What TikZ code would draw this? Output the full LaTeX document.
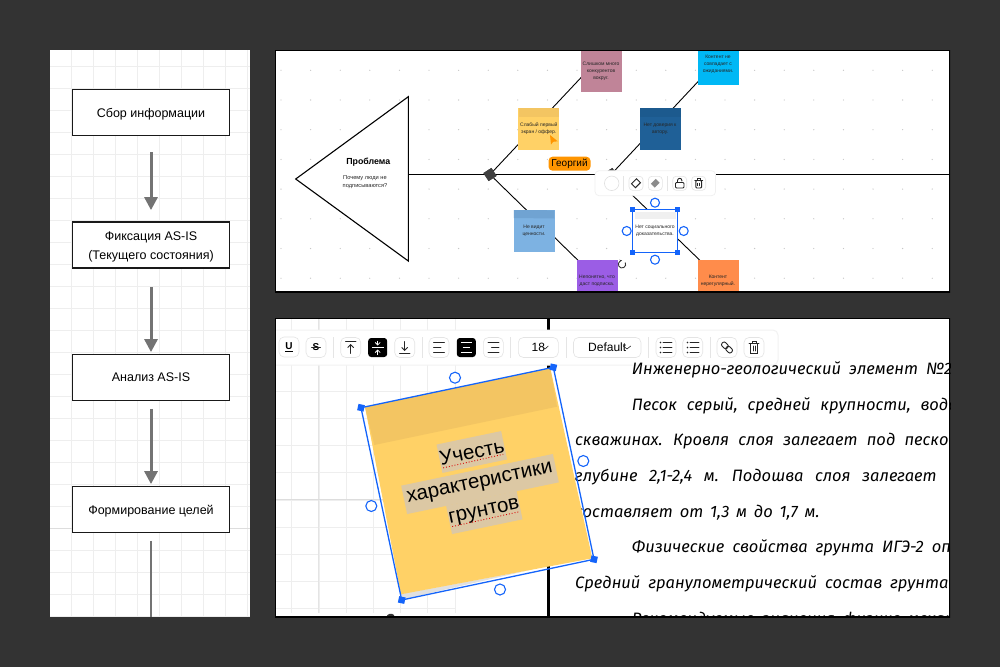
\documentclass[tikz,border=0pt]{standalone}
\usepackage{fontspec}
\usepackage{xcolor}
\setmainfont{Liberation Sans}
\newfontfamily\gostfont[WordSpace=1.9]{Fira Sans}
\usetikzlibrary{arrows.meta}
\usetikzlibrary{calc}
\definecolor{backdrop}{HTML}{333333}
\definecolor{selblue}{HTML}{1464FA}
\definecolor{hairline}{HTML}{EEEEEE}
\definecolor{gridbold}{HTML}{DDDDDD}
\definecolor{btnline}{HTML}{E4E4E4}
\definecolor{noteshade}{HTML}{DCC8A4}
\definecolor{pinknote}{HTML}{C08498}
\definecolor{cyannote}{HTML}{00B8F5}
\definecolor{yellownote}{HTML}{FFD166}
\definecolor{yellowband}{HTML}{F3C562}
\definecolor{navynote}{HTML}{1F6097}
\definecolor{navyband}{HTML}{1C5A8E}
\definecolor{bluenote}{HTML}{7DB2E2}
\definecolor{blueband}{HTML}{70A3D2}
\definecolor{purplenote}{HTML}{9B5DE5}
\definecolor{orangenote}{HTML}{FF8C4B}
\definecolor{namebadge}{HTML}{FF9500}
\newcommand{\flowstrut}{\rule{0pt}{13.5pt}}
\tikzset{x=1pt,y=-1pt,
 flowbox/.style={draw=black!90,line width=1.8pt,fill=white,minimum width=157pt,minimum height=46pt,inner sep=0pt,align=center,font=\fontsize{12.5}{19}\selectfont},
 flowarrow/.style={draw=black!55,line width=3pt,-{Triangle[length=13pt,width=13pt]}},
 flowline/.style={draw=black!55,line width=1.6pt},
 bone/.style={draw=black,line width=.9pt},
 sticky/.style={minimum width=41pt,minimum height=42pt,inner sep=0pt,align=center,font=\fontsize{5}{7.2}\selectfont,text=black!85},
 joint/.style={rectangle,rotate=33,fill=black!75,inner sep=0pt,minimum size=9.5pt},
 handle/.style={circle,draw=selblue,line width=1.1pt,fill=white,inner sep=0pt,minimum size=9pt},
 corner/.style={rectangle,fill=selblue,inner sep=0pt,minimum size=5pt},
 toolbtn/.style={rectangle,rounded corners=3.5pt,draw=btnline,line width=.6pt,fill=white,inner sep=0pt,minimum size=14pt},
 editbtn/.style={rectangle,rounded corners=5pt,draw=btnline,line width=.6pt,fill=white,inner sep=0pt,minimum size=20pt,font=\fontsize{11}{11}\selectfont},
 blackbtn/.style={rectangle,rounded corners=3pt,fill=black,inner sep=0pt,minimum size=19pt},
 icon/.style={draw=black!85,line width=.9pt,line cap=round},
 docline/.style={anchor=base west,inner sep=0pt,font=\gostfont\itshape\fontsize{16.5}{16.5}\selectfont},
 notetext/.style={rotate=11.8,fill=noteshade,inner sep=0pt,minimum height=29pt,font=\fontsize{20.5}{20.5}\selectfont},
 spell/.style={draw=red!85!black,line width=.9pt,dotted},
}
\begin{document}
\begin{tikzpicture}
        \fill [backdrop] (0, 0) rectangle (1000, 667);
        \useasboundingbox (0, 0) rectangle (1000, 667);
        % left panel
        \fill [white] (50, 50) rectangle (250, 617);
        \foreach \gx in {71, 93, ..., 247} \draw [hairline, line width=.8pt] (\gx, 50) -- (\gx, 617);
        \foreach \gy in {66, 88, ..., 616} \draw [hairline, line width=.8pt] (50, \gy) -- (250, \gy);
        \draw [gridbold, line width=.8pt] (50, 528) -- (250, 528);
        \node [flowbox] (collect) at (151, 112.5) {\flowstrut Сбор информации};
        \node [flowbox] (asisfix) at (151, 245) {\flowstrut Фиксация AS-IS\\(Текущего состояния)};
        \node [flowbox] (asisan) at (151, 377.5) {Анализ AS-IS};
        \node [flowbox] (goals) at (151, 509.5) {\flowstrut Формирование целей};
        \coordinate (goalsend) at (151, 617);
        \draw [flowarrow, shorten <=16pt, shorten >=11pt] (collect) -- (asisfix);
        \draw [flowarrow, shorten <=18pt, shorten >=1.5pt] (asisfix) -- (asisan);
        \draw [flowarrow, shorten <=7.5pt, shorten >=1.5pt] (asisan) -- (goals);
        \draw [flowline, shorten <=7.5pt] (goals) -- (goalsend);

        % top panel
        \begin{scope}
        \clip (275, 50) rectangle (950, 292);
        \fill [white] (275, 50) rectangle (950, 292);
        \foreach \dx in {281, 310.6, ..., 945} \foreach \dy in {70.3, 100, ..., 285}
            \fill [black!22] (\dx, \dy) circle (.65);
        \node [joint] (jointa) at (490, 174.5) {};
        \node [joint] (jointb) at (611, 174.5) {};
        \coordinate (spinea) at (408.3, 174.5);
        \coordinate (spineb) at (950, 174.5);
        \coordinate (pinkend) at (590, 68);
        \coordinate (cyanend) at (707, 72);
        \coordinate (purpleend) at (590, 272);
        \coordinate (orangeend) at (712, 272);
        \draw [bone] (spinea) -- (spineb);
        \draw [bone] (jointa) -- (pinkend);
        \draw [bone] (jointa) -- (purpleend);
        \draw [bone] (jointb) -- (cyanend);
        \draw [bone] (jointb) -- (orangeend);
        \node [joint] at (jointa) {};
        \node [joint] at (jointb) {};
        \coordinate (apex) at (295.7, 179);
        \coordinate (headtop) at (408.3, 96.7);
        \coordinate (headbot) at (408.3, 261);
        \draw [black, line width=1.1pt, line join=miter, fill=white] (apex) -- (headtop) -- (headbot) -- cycle;
        \node [font=\bfseries\fontsize{8.8}{8.8}\selectfont] (headline) at (368.3, 162) {Проблема};
        \node [font=\fontsize{5.7}{8.2}\selectfont, align=center, text=black!85] (headsub) at (365, 182.5) {Почему люди не\\подписываются?};
        % stickies
        \node [sticky, fill=pinknote] (pink) at (601, 71) {Слишком много\\конкурентов\\вокруг.};
        \node [sticky, fill=cyannote] (cyan) at (718, 64) {Контент не\\совпадает с\\ожиданиями.};
        \node [sticky, fill=yellownote] (yellow) at (538.8, 129) {Слабый первый\\экран / оффер.};
        \fill [yellowband] (518.5, 108) -- (559, 108) -- (559, 116.6) -- (518.5, 116.6) -- cycle;
        \node [sticky, fill=navynote] (navy) at (660, 129) {Нет доверия к\\автору.};
        \fill [navyband] (639.5, 108) rectangle (680.5, 116.6);
        \node [sticky, fill=bluenote] (bluen) at (534, 231) {Не видит\\ценности.};
        \fill [blueband] (513.8, 210) -- (554.3, 210.3) -- (554.3, 218.5) -- (513.8, 218) -- cycle;
        \node [sticky, fill=purplenote] (purple) at (597, 281) {Непонятно, что\\даст подписка.};
        \node [sticky, fill=orangenote] (orangen) at (718, 281) {Контент\\нерегулярный.};
        \node [sticky, fill=white, minimum width=43pt, minimum height=43pt] (plain) at (655, 231) {Нет социального\\доказательства.};
        \fill [black!6] (634.5, 212) rectangle (675.5, 219);
        \fill [namebadge] (550, 135) -- (557.7, 141.3) -- (553.2, 141.8) -- (551, 144.5) -- cycle;
        \node [fill=namebadge, rounded corners=4pt, minimum width=42pt, minimum height=14pt, inner sep=0pt, font=\fontsize{10}{10}\selectfont] (george) at (569.5, 163.7) {Георгий};
        % selection
        \draw [selblue, line width=.9pt] (632.7, 209.5) rectangle (677.3, 252.7);
        \foreach \cx/\cy in {632.7/209.5, 677.3/209.5, 632.7/252.7, 677.3/252.7}
            \node [corner] at (\cx, \cy) {};
        \node [handle] (hn) at (655, 202.7) {};
        \node [handle] (hw) at (626.7, 231) {};
        \node [handle] (he) at (683.7, 231) {};
        \node [handle] (hs) at (655, 259.7) {};
        \draw [black!80, line width=.9pt, -{Stealth[length=2.5pt]}] (622, 264.3) ++(-30:3.7) arc (-30:270:3.7);
        % toolbar
        \node [draw=black!6, line width=.7pt, fill=white, rounded corners=4pt, minimum width=120.5pt, minimum height=25pt, inner sep=0pt] (popbar) at (655.3, 183.2) {};
        \node [circle, draw=black!12, line width=.6pt, inner sep=0pt, minimum size=14.5pt] (swatch) at (611.7, 183.3) {};
        \draw [black!10, line width=.6pt] (623.3, 176) -- (623.3, 191);
        \draw [black!10, line width=.6pt] (667.3, 176) -- (667.3, 191);
        \node [toolbtn] (eraseA) at (636, 183.3) {};
        \node [toolbtn] (eraseB) at (655.3, 183.3) {};
        \node [toolbtn] (lockb) at (679.7, 183.3) {};
        \node [toolbtn] (binb) at (698.7, 183.3) {};
        \draw [icon, rotate around={45:(636,183.3)}] (632.5, 180.5) rectangle (639.5, 186);
        \fill [black!45, rotate around={45:(655.3,183.3)}] (651.8, 180.5) rectangle (658.8, 186);
        \draw [icon, rounded corners=1pt] (675.5, 182.5) rectangle (684, 188);
        \draw [icon] (677.5, 182.5) -- (677.5, 180.5) arc (180:360:2.2) -- (681.9, 181);
        \draw [icon, rounded corners=1pt] (695.8, 180.5) rectangle (701.6, 188);
        \draw [icon] (694.8, 180) -- (702.6, 180);
        \draw [icon] (697.5, 180) -- (697.5, 178.5) -- (700, 178.5) -- (700, 180);
        \draw [black!85, line width=.7pt] (697.8, 182.5) -- (697.8, 186);
        \draw [black!85, line width=.7pt] (699.7, 182.5) -- (699.7, 186);
        \draw [black, line width=1.2pt] (275, 50) rectangle (950, 292);
        \end{scope}

        % bottom panel
        \begin{scope}
        \clip (275, 318) rectangle (950, 617);
        \fill [white] (275, 318) rectangle (950, 617);
        \foreach \gx in {291.7, 318.9, ..., 456} \draw [hairline, line width=.8pt] (\gx, 318) -- (\gx, 613);
        \foreach \gy in {336.7, 363.9, ..., 612} \draw [hairline, line width=.8pt] (275, \gy) -- (456, \gy);
        \draw [btnline, line width=.8pt] (318.5, 318) -- (318.5, 613);
        \draw [gridbold, line width=.8pt] (275, 499) -- (456, 499);
        \draw [black, line width=2.6pt] (548.3, 318) -- (548.3, 617);
        \fill [black!80] (386, 617) .. controls (388, 613) and (392, 613) .. (394, 615) -- (394, 617) -- cycle;
        % text toolbar
        \node [draw=black!5, line width=1pt, fill=white, rounded corners=5pt, minimum width=520pt, minimum height=35pt, inner sep=0pt] (editbar) at (518, 347.5) {};
        \foreach \sx in {333.3, 422, 510.7, 566, 648.3, 710}
            \draw [black!10, line width=.7pt] (\sx, 337) -- (\sx, 358);
        \node [editbtn, font=\bfseries\fontsize{10}{10}\selectfont] (ubtn) at (289, 347) {\underline{U}};
        \node [editbtn, font=\bfseries\fontsize{10}{10}\selectfont] (sbtn) at (316, 347.5) {S};
        \node [editbtn] (topbtn) at (350.7, 347.5) {};
        \node [blackbtn] (midbtn) at (377.7, 347.5) {};
        \node [editbtn] (botbtn) at (404.7, 347.5) {};
        \node [editbtn] (leftbtn) at (439, 347.5) {};
        \node [blackbtn] (cenbtn) at (466.3, 347.5) {};
        \node [editbtn] (rightbtn) at (493.3, 347.5) {};
        \node [editbtn, minimum width=40pt, font=\fontsize{12}{12}\selectfont] (sizebtn) at (538.3, 347.5) {18\hspace{14pt}};
        \node [editbtn, minimum width=67.5pt, font=\fontsize{12}{12}\selectfont] (fontbtn) at (607.2, 347.5) {Default\hspace{14pt}};
        \node [editbtn] (listbtn) at (666, 347.5) {};
        \node [editbtn] (numbtn) at (692.7, 347.5) {};
        \node [editbtn] (linkbtn) at (727, 347.5) {};
        \node [editbtn] (trashbtn) at (754, 347.5) {};
        % icons
        \draw [icon, line width=.6pt] (541.7, 346) -- (545, 349) -- (548.3, 346);
        \draw [icon, line width=.6pt] (623.3, 346) -- (627, 349) -- (630.7, 346);
        \draw [icon] (311.5, 347.5) -- (320.5, 347.5);
        \draw [icon] (345.5, 341.5) -- (356, 341.5);
        \draw [icon, -{Straight Barb[length=3pt]}] (350.7, 353.5) -- (350.7, 344);
        \draw [icon] (399.5, 353.5) -- (410, 353.5);
        \draw [icon, -{Straight Barb[length=3pt]}] (404.7, 341.5) -- (404.7, 351);
        \draw [white, line width=.8pt] (372, 347.5) -- (383.5, 347.5);
        \draw [white, line width=.8pt, -{Straight Barb[length=2.5pt]}] (377.7, 340.5) -- (377.7, 345.5);
        \draw [white, line width=.8pt, -{Straight Barb[length=2.5pt]}] (377.7, 354.5) -- (377.7, 349.5);
        \foreach \ty/\tl in {342.5/11, 347.5/7.5, 352.5/11}
            \draw [icon] (433.5, \ty) -- ++(\tl, 0);
        \foreach \ty/\tl in {342.5/11, 347.5/7.5, 352.5/11}
            \draw [white, line width=.9pt] (466.3, \ty) ++(-\tl/2, 0) -- ++(\tl, 0);
        \foreach \ty/\tl in {342.5/11, 347.5/7.5, 352.5/11}
            \draw [icon] (499, \ty) -- ++(-\tl, 0);
        \foreach \ty in {342.5, 347.5, 352.5} {
            \draw [icon, line width=.6pt] (663, \ty) -- (672, \ty);
            \fill [black!85] (660.5, \ty) circle (.8);
            \draw [icon, line width=.6pt] (690, \ty) -- (699, \ty);
            \fill [black!85] (687.5, \ty) circle (.9);
        }
        \draw [icon, rotate around={-45:(727,347.5)}, rounded corners=2pt] (720.5, 345) rectangle (727.5, 350);
        \draw [icon, rotate around={-45:(727,347.5)}, rounded corners=2pt] (726.5, 345) rectangle (733.5, 350);
        \draw [icon] (750.5, 343.5) -- (750.5, 353.5) -- (757.5, 353.5) -- (757.5, 343.5);
        \draw [icon] (749, 343.5) -- (759, 343.5);
        \draw [icon] (752, 343.5) -- (752, 341.5) -- (756, 341.5) -- (756, 343.5);
        \draw [icon] (753, 346) -- (753, 351);
        \draw [icon] (755, 346) -- (755, 351);
        % scanned page
        \node [docline] (lineA) at (631.7, 374) {Инженерно-геологический элемент №2};
        \node [docline] (lineB) at (631.7, 410) {\spaceskip=9.8pt\relax Песок серый, средней крупности, водон};
        \node [docline] (lineC) at (575, 445.7) {\spaceskip=9.2pt\relax скважинах. Кровля слоя залегает под песко};
        \node [docline] (lineD) at (575, 481.7) {\spaceskip=11.6pt\relax глубине 2,1-2,4 м. Подошва слоя залегает};
        \node [docline] (lineE) at (575, 517) {\spaceskip=6.8pt\relax составляет от 1,3 м до 1,7 м.};
        \node [docline] (lineF) at (631.7, 552.7) {Физические свойства грунта ИГЭ-2 оп};
        \node [docline] (lineG) at (575, 588.3) {Средний гранулометрический состав грунта};
        \node [docline] (lineH) at (631.7, 624) {Рекомендуемые значения физико-механ};
        % sticky
        \coordinate (selnw) at (361, 407.7);
        \coordinate (selne) at (553.3, 367.3);
        \coordinate (selse) at (594, 559.3);
        \coordinate (selsw) at (401.7, 600);
        \fill [black!12] (401, 594) -- (530, 570) -- (403, 599.3) -- cycle;
        \fill [yellownote] (365, 407) -- (550.3, 368.3) -- (592.3, 558.3) -- (401, 594.3) -- cycle;
        \fill [yellowband] (365, 407) -- (550.3, 368.3) -- (557, 406.7) -- (374.3, 445) -- cycle;
        \node [notetext, minimum width=66pt] (noteA) at (471.8, 452) {Учесть};
        \node [notetext, minimum width=155pt] (noteB) at (480, 484) {характеристики};
        \node [notetext, minimum width=72pt] (noteC) at (484.3, 512.5) {грунтов};
        \draw [spell] ($(noteA.base west)!.3!(noteA.south west)+(2,0)$) -- ($(noteA.base east)!.3!(noteA.south east)+(-3,0)$);
        \draw [spell] ($(noteC.base west)!.3!(noteC.south west)+(2,0)$) -- ($(noteC.base east)!.3!(noteC.south east)+(-2,0)$);
        \draw [selblue, line width=1.3pt] (selnw) -- (selne) -- (selse) -- (selsw) -- cycle;
        \foreach \cn in {selnw, selne, selse, selsw}
            \node [corner, minimum size=6.5pt, rotate=-12] at (\cn) {};
        \node [handle, minimum size=11pt] (hnorth) at (455, 377.7) {};
        \node [handle, minimum size=11pt] (hwest) at (371.3, 506) {};
        \node [handle, minimum size=11pt] (heast) at (583.3, 461) {};
        \node [handle, minimum size=11pt] (hsouth) at (500, 589.5) {};
        \draw [black, line width=1.2pt] (275, 318) rectangle (950, 617);
        \end{scope}
    \end{tikzpicture}
\end{document}
